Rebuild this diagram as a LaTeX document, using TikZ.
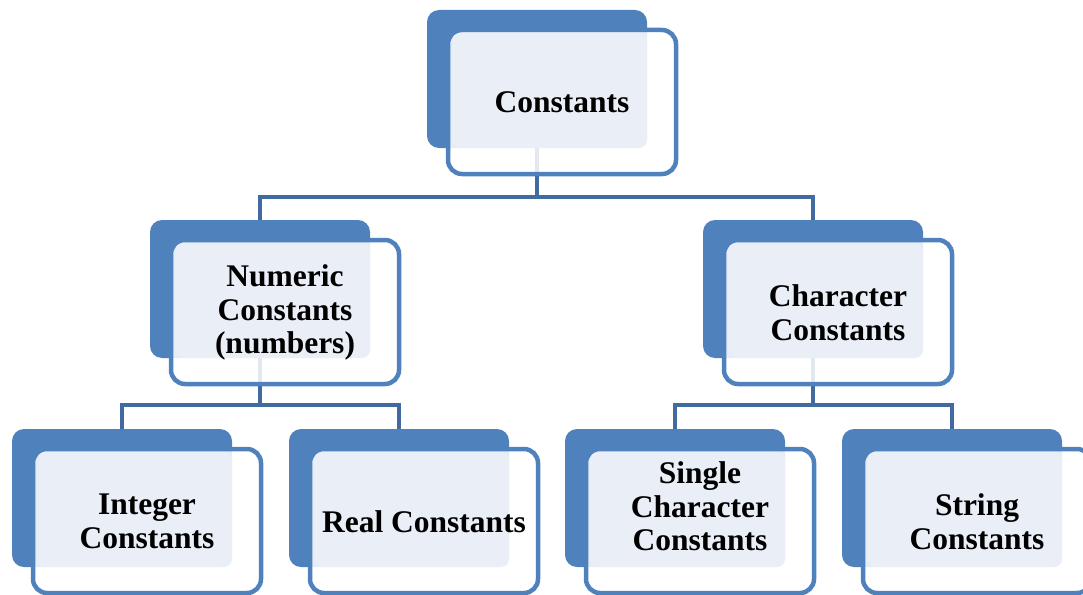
\documentclass[tikz,border=0pt]{standalone}
\usepackage{fontspec}
\setmainfont{Liberation Serif}
\usetikzlibrary{calc}
\definecolor{accent}{RGB}{79,129,189}
\definecolor{linkblue}{RGB}{65,106,160}
\definecolor{paleblue}{RGB}{234,239,247}
\tikzset{
  backbox/.style={fill=accent, draw=none, rounded corners=12pt,
    minimum width=220pt, minimum height=138pt, inner sep=0pt},
  frontbox/.style={draw=accent, line width=4.5pt, fill=white, fill opacity=0.85,
    rounded corners=14pt, minimum width=228pt, minimum height=144pt, inner sep=0pt},
  facebox/.style={fill=paleblue, draw=none, rounded corners=8pt,
    minimum width=195pt, minimum height=115pt, inner sep=0pt},
  caption/.style={align=center, text=black, inner sep=0pt,
    font=\bfseries\fontsize{31.5}{33.5}\selectfont},
  link/.style={draw=linkblue, line width=4pt}
}
% back panel of a unit: name, centre x, centre y
\newcommand\unitback[3]{\node[backbox] (#1) at (#2,#3) {};}
% front frame, face and caption of a unit: name, x, y, caption shift, text
\newcommand\unitfront[5]{%
  \node[frontbox] (#1-f) at (#2+25,#3+23) {};
  \node[facebox] (#1-l) at (#2+12.5,#3+11.5) {};
  \node[caption] (#1-t) at (#2+25,#3+23.5+#4) {#5};}
\begin{document}
\begin{tikzpicture}[x=1pt,y=-1pt]
  \useasboundingbox (0,0) rectangle (1083,594);
  % back panels
  \unitback{top}{537}{79}
  \unitback{num}{260}{289}
  \unitback{chr}{813}{289}
  \unitback{int}{122}{498}
  \unitback{real}{399}{498}
  \unitback{single}{675}{498}
  \unitback{str}{952}{498}
  % bus levels
  \coordinate (bus1) at (0,197);
  \coordinate (bus2) at (0,405);
  % connectors
  \draw[link] (top.south) -- (top.south |- bus1) -| (num.north);
  \draw[link] (top.south |- bus1) -| (chr.north);
  \draw[link] (num.south) -- (num.south |- bus2) -| (int.north);
  \draw[link] (num.south |- bus2) -| (real.north);
  \draw[link] (chr.south) -- (chr.south |- bus2) -| (single.north);
  \draw[link] (chr.south |- bus2) -| (str.north);
  % front frames and captions
  \unitfront{top}{537}{79}{0}{Constants}
  \unitfront{num}{260}{289}{0}{Numeric\\Constants\\(numbers)}
  \unitfront{chr}{813}{289}{0}{Character\\Constants}
  \unitfront{int}{122}{498}{0}{Integer\\Constants}
  \unitfront{real}{399}{498}{0}{Real Constants}
  \unitfront{single}{675}{498}{-15}{Single\\Character\\Constants}
  \unitfront{str}{952}{498}{0}{String\\Constants}
\end{tikzpicture}
\end{document}
